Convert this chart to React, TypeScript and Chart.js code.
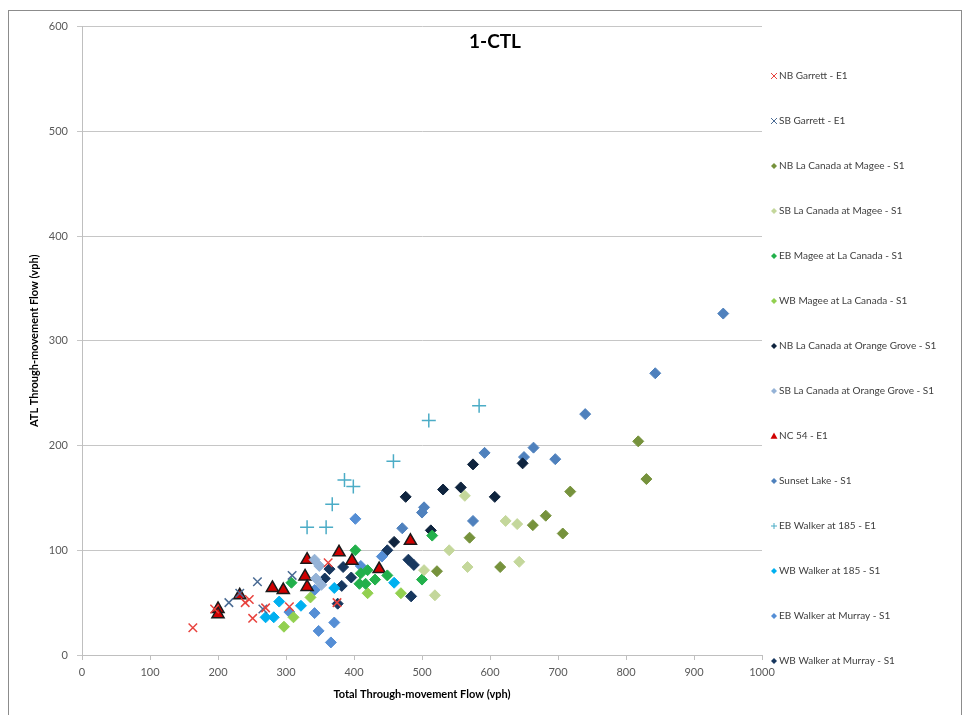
import React, { useEffect, useRef } from "react";
import { Chart, registerables } from "chart.js";

Chart.register(...registerables);

const CHART_TITLE = "1-CTL";
const X_TITLE = "Total Through-movement Flow (vph)";
const Y_TITLE = "ATL Through-movement Flow (vph)";
const X_MIN = 0, X_MAX = 1000, X_STEP = 100;
const Y_MIN = 0, Y_MAX = 600, Y_STEP = 100;

type P = [number, number];

const NB_GARRETT: P[] = [[163, 26], [195, 44], [240, 50], [246, 53], [251, 35], [270, 45], [305, 46], [362, 88], [375, 50]];
const SB_GARRETT: P[] = [[216, 50], [232, 59], [258, 70], [266, 44], [309, 76]];
const NB_LC_MAGEE: P[] = [[522, 80], [570, 112], [615, 84], [663, 124], [682, 133], [707, 116], [718, 156], [818, 204], [830, 168]];
const SB_LC_MAGEE: P[] = [[503, 81], [519, 57], [540, 100], [563, 152], [567, 84], [623, 128], [640, 125], [643, 89]];
const EB_MAGEE_LC: P[] = [[308, 69], [402, 100], [410, 78], [420, 81], [408, 68], [417, 68], [431, 72], [449, 76], [500, 72], [515, 114]];
const WB_MAGEE_LC: P[] = [[297, 27], [311, 36], [336, 55], [420, 59], [469, 59]];
const NB_LC_OG: P[] = [[459, 108], [476, 151], [513, 119], [531, 158], [557, 160], [575, 182], [607, 151], [648, 183]];
const SB_LC_OG: P[] = [[342, 91], [349, 85], [352, 67], [344, 73]];
const NC54: P[] = [[200, 44], [200, 39], [232, 57], [280, 64], [296, 62], [328, 75], [331, 65], [331, 91], [378, 98], [397, 90], [437, 82], [483, 109]];
const SUNSET_LAKE: P[] = [[943, 326], [843, 269], [740, 230], [664, 198], [696, 187], [650, 189], [592, 193], [575, 128], [503, 141], [500, 136], [471, 121]];
const EB_WALKER_185: P[] = [[331, 122], [359, 122], [368, 144], [386, 167], [399, 161], [458, 185], [510, 224], [584, 238]];
const WB_WALKER_185: P[] = [[270, 36], [282, 36], [290, 51], [322, 47], [371, 64], [459, 69]];
const EB_WALKER_MURRAY: P[] = [[402, 130], [441, 94], [410, 85], [342, 40], [348, 23], [371, 31], [366, 12], [305, 41], [342, 62]];
const WB_WALKER_MURRAY: P[] = [[357, 73], [364, 82], [384, 84], [382, 66], [396, 74], [376, 49], [449, 100], [480, 91], [488, 86], [484, 56]];

const SERIES_NAMES = [
  "NB Garrett - E1",
  "SB Garrett - E1",
  "NB La Canada at Magee - S1",
  "SB La Canada at Magee - S1",
  "EB Magee at La Canada - S1",
  "WB Magee at La Canada - S1",
  "NB La Canada at Orange Grove - S1",
  "SB La Canada at Orange Grove - S1",
  "NC 54 - E1",
  "Sunset Lake - S1",
  "EB Walker at 185 - E1",
  "WB Walker at 185 - S1",
  "EB Walker at Murray - S1",
  "WB Walker at Murray - S1",
];
const SERIES_DATA = [
  NB_GARRETT, SB_GARRETT, NB_LC_MAGEE, SB_LC_MAGEE, EB_MAGEE_LC, WB_MAGEE_LC,
  NB_LC_OG, SB_LC_OG, NC54, SUNSET_LAKE, EB_WALKER_185, WB_WALKER_185,
  EB_WALKER_MURRAY, WB_WALKER_MURRAY,
];

type Style = { shape: string; color: string; border?: string; r: number; bw: number };
const STYLES: Style[] = [
  { shape: "crossRot", color: "#E8433E", r: 6, bw: 1.5 },
  { shape: "crossRot", color: "#4A6B94", r: 6, bw: 1.5 },
  { shape: "rectRot", color: "#76923C", r: 5.5, bw: 1 },
  { shape: "rectRot", color: "#C4D79B", r: 5.5, bw: 1 },
  { shape: "rectRot", color: "#22B04B", r: 5.5, bw: 1 },
  { shape: "rectRot", color: "#92D050", r: 5.5, bw: 1 },
  { shape: "rectRot", color: "#0F243E", r: 5.5, bw: 1 },
  { shape: "rectRot", color: "#95B3D7", r: 5.5, bw: 1 },
  { shape: "triangle", color: "#D00000", border: "#1a1a1a", r: 7, bw: 1.5 },
  { shape: "rectRot", color: "#4F81BD", r: 5.5, bw: 1 },
  { shape: "cross", color: "#4BACC6", r: 7, bw: 1.5 },
  { shape: "rectRot", color: "#00B0F0", r: 5.5, bw: 1 },
  { shape: "rectRot", color: "#558ED5", r: 5.5, bw: 1 },
  { shape: "rectRot", color: "#17375E", r: 5.5, bw: 1 },
];

const FONT = "Lato, 'Open Sans', sans-serif";

function drawMarker(ctx: CanvasRenderingContext2D, s: Style, x: number, y: number, r: number) {
  ctx.save();
  ctx.beginPath();
  ctx.lineWidth = 1;
  ctx.strokeStyle = s.border || s.color;
  ctx.fillStyle = s.color;
  if (s.shape === "rectRot") {
    ctx.moveTo(x - r, y); ctx.lineTo(x, y - r); ctx.lineTo(x + r, y); ctx.lineTo(x, y + r); ctx.closePath();
    ctx.fill();
  } else if (s.shape === "triangle") {
    ctx.moveTo(x, y - r); ctx.lineTo(x + r, y + r * 0.8); ctx.lineTo(x - r, y + r * 0.8); ctx.closePath();
    ctx.fill();
  } else if (s.shape === "crossRot") {
    ctx.moveTo(x - r, y - r); ctx.lineTo(x + r, y + r); ctx.moveTo(x + r, y - r); ctx.lineTo(x - r, y + r);
    ctx.stroke();
  } else {
    ctx.moveTo(x - r, y); ctx.lineTo(x + r, y); ctx.moveTo(x, y - r); ctx.lineTo(x, y + r);
    ctx.stroke();
  }
  ctx.restore();
}

const overlayPlugin = {
  id: "overlay",
  afterDraw(chart: any) {
    const ctx: CanvasRenderingContext2D = chart.ctx;
    const area = chart.chartArea;
    ctx.save();
    ctx.font = `bold 19px ${FONT}`;
    ctx.fillStyle = "#000";
    ctx.textAlign = "center";
    ctx.textBaseline = "middle";
    ctx.fillText(CHART_TITLE, chart.width / 2 + 10, 31);
    ctx.font = `10px ${FONT}`;
    ctx.textAlign = "left";
    ctx.fillStyle = "#404040";
    SERIES_NAMES.forEach((name, i) => {
      const y = 65 + i * 45;
      const x = area.right + 12;
      drawMarker(ctx, STYLES[i], x, y, STYLES[i].shape === "triangle" ? 3.5 : 3);
      ctx.fillStyle = "#404040";
      ctx.fillText(name, x + 5, y);
    });
    ctx.restore();
  },
};

export default function App() {
  const ref = useRef<HTMLCanvasElement | null>(null);
  useEffect(() => {
    if (!ref.current) return;
    const datasets = SERIES_NAMES.map((name, i) => {
      const s = STYLES[i];
      return {
        label: name,
        data: SERIES_DATA[i].map(([x, y]) => ({ x, y })),
        pointStyle: s.shape,
        pointRadius: s.r,
        pointBackgroundColor: s.color,
        pointBorderColor: s.border || s.color,
        pointBorderWidth: s.bw,
        backgroundColor: s.color,
        borderColor: s.border || s.color,
        showLine: false,
      };
    });
    const chart = new Chart(ref.current, {
      type: "scatter",
      data: { datasets },
      plugins: [overlayPlugin],
      options: {
        animation: false,
        responsive: true,
        maintainAspectRatio: false,
        layout: { padding: { top: 15, right: 199, left: 0, bottom: 0 } },
        plugins: { legend: { display: false }, tooltip: { enabled: false }, title: { display: false } },
        scales: {
          x: {
            type: "linear",
            min: X_MIN,
            max: X_MAX,
            afterFit: (scale: any) => { scale.height = 60; },
            ticks: { stepSize: X_STEP, autoSkip: false, maxRotation: 0, color: "#595959", padding: 6, font: { family: FONT, size: 11 }, callback: (v: any) => String(v) },
            grid: { drawOnChartArea: false, drawTicks: true, tickLength: 5, color: "#bfbfbf" },
            border: { display: true, color: "#bfbfbf" },
            title: { display: true, text: X_TITLE, color: "#000", font: { family: FONT, size: 11, weight: "bold" }, padding: { top: 0, bottom: 14 } },
          },
          y: {
            type: "linear",
            min: Y_MIN,
            max: Y_MAX,
            afterFit: (scale: any) => { scale.width = 73; },
            ticks: { stepSize: Y_STEP, color: "#595959", padding: 9, font: { family: FONT, size: 11 }, callback: (v: any) => String(v) },
            grid: { drawOnChartArea: true, drawTicks: true, tickLength: 5, color: "#c6c6c6" },
            border: { display: true, color: "#bfbfbf" },
            title: { display: true, text: Y_TITLE, color: "#000", font: { family: FONT, size: 11, weight: "bold" }, padding: { top: 19, bottom: 0 } },
          },
        },
      } as any,
    });
    return () => chart.destroy();
  }, []);
  return (
    <div style={{ paddingTop: 2 }}>
      <div style={{ border: "1px solid #8c8c8c", width: 954, height: 710, boxSizing: "border-box" }}>
        <div style={{ position: "relative", width: 952, height: 704 }}>
          <canvas ref={ref} />
        </div>
      </div>
    </div>
  );
}
